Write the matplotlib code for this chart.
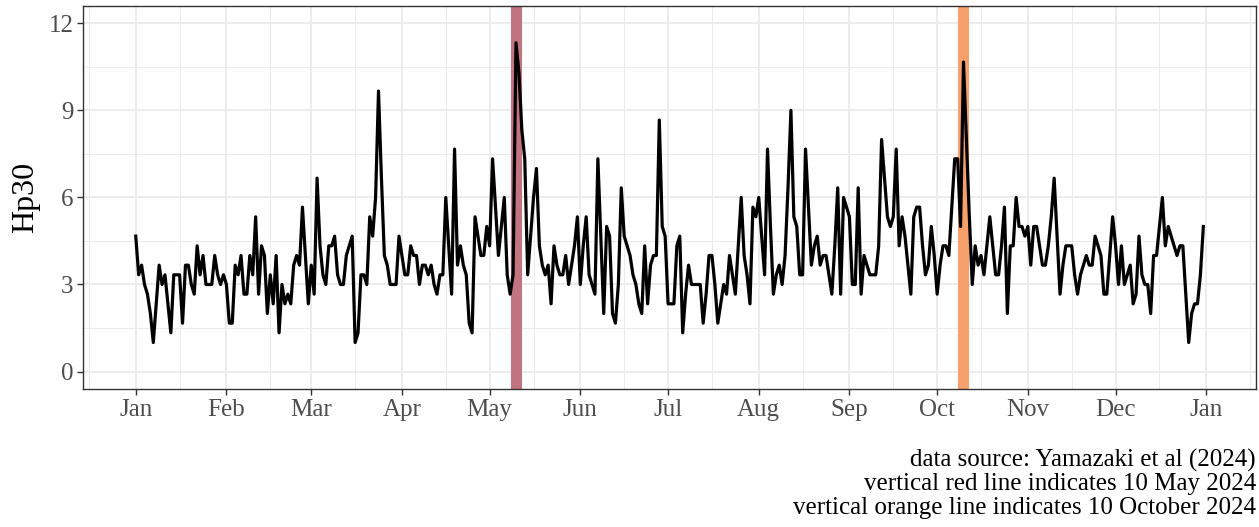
import datetime as dt

import matplotlib.dates as mdates
import matplotlib.pyplot as plt
import numpy as np
from matplotlib.ticker import MultipleLocator

plt.rcParams["font.family"] = ["Liberation Serif", "DejaVu Serif"]

# Daily Hp30 for 2024, stored in units of 1/3 (Hp30 steps in thirds)
hp30_jan = [14, 10, 11, 9, 8, 6, 3, 7, 11, 9, 10, 7, 4, 10, 10, 10, 5, 11, 11, 9, 8, 13, 10, 12, 9, 9, 9, 12, 10, 9, 10]
hp30_feb = [9, 5, 5, 11, 10, 12, 8, 8, 12, 10, 16, 8, 13, 12, 6, 10, 7, 12, 4, 9, 7, 8, 7, 11, 12, 11, 17, 12, 7]
hp30_mar = [11, 8, 20, 13, 10, 9, 13, 13, 14, 10, 9, 9, 12, 13, 14, 3, 4, 10, 10, 9, 16, 14, 18, 29, 20, 12, 11, 9, 9, 9, 14]
hp30_apr = [12, 10, 10, 13, 12, 12, 9, 11, 11, 10, 11, 9, 8, 10, 10, 18, 13, 8, 23, 11, 13, 11, 10, 5, 4, 16, 14, 12, 12, 15]
hp30_may = [13, 22, 17, 12, 15, 18, 10, 8, 10, 34, 31, 25, 22, 10, 14, 18, 21, 13, 11, 10, 11, 7, 13, 11, 10, 10, 12, 9, 11, 13, 16]
hp30_jun = [9, 13, 16, 10, 9, 8, 22, 14, 6, 15, 14, 6, 5, 9, 19, 14, 13, 12, 10, 9, 7, 6, 13, 7, 11, 12, 12, 26, 15, 14]
hp30_jul = [7, 7, 7, 13, 14, 4, 8, 11, 9, 9, 9, 9, 5, 8, 12, 12, 9, 5, 7, 9, 8, 12, 10, 8, 13, 18, 12, 10, 7, 17, 16]
hp30_aug = [18, 14, 10, 23, 15, 8, 10, 11, 9, 12, 19, 27, 16, 15, 10, 10, 23, 17, 11, 13, 14, 11, 12, 12, 10, 8, 13, 19, 8, 18, 17]
hp30_sep = [16, 9, 9, 19, 8, 12, 11, 10, 10, 10, 13, 24, 20, 16, 15, 16, 23, 13, 16, 14, 11, 8, 16, 17, 17, 13, 10, 11, 15, 12]
hp30_oct = [8, 11, 13, 13, 12, 17, 22, 22, 15, 32, 24, 16, 9, 13, 11, 12, 10, 13, 16, 13, 10, 10, 13, 17, 6, 13, 13, 18, 15, 15, 14]
hp30_nov = [15, 11, 15, 15, 13, 11, 11, 13, 16, 20, 14, 8, 11, 13, 13, 13, 10, 8, 10, 11, 12, 11, 11, 14, 13, 12, 8, 8, 12, 16]
hp30_dec = [13, 9, 13, 9, 10, 11, 7, 8, 14, 10, 9, 9, 6, 12, 12, 15, 18, 13, 15, 14, 13, 12, 13, 13, 8, 3, 6, 7, 7, 10, 15]

storm_may = dt.date(2024, 5, 10)
storm_oct = dt.date(2024, 10, 10)

caption_lines = [
    "data source: Yamazaki et al (2024)",
    "vertical red line indicates 10 May 2024",
    "vertical orange line indicates 10 October 2024",
]


def main():
    thirds = (hp30_jan + hp30_feb + hp30_mar + hp30_apr + hp30_may + hp30_jun
              + hp30_jul + hp30_aug + hp30_sep + hp30_oct + hp30_nov + hp30_dec)
    hp30 = np.array(thirds) / 3
    dates = [dt.date(2024, 1, 1) + dt.timedelta(days=i) for i in range(len(hp30))]

    fig = plt.figure(figsize=(12.59, 5.27), dpi=100)
    ax = fig.add_axes([0.066, 0.262, 0.9316, 0.7266])

    ax.axvline(storm_may, color="#C27480", linewidth=8.0, zorder=1)
    ax.axvline(storm_oct, color="#F7A06C", linewidth=8.0, zorder=1)
    ax.plot(dates, hp30, color="black", linewidth=2.3, zorder=3)

    pad = dt.timedelta(days=18.25)
    ax.set_xlim(dates[0] - pad, dates[-1] + pad)
    ax.set_ylim(-0.6, 12.6)

    ax.yaxis.set_major_locator(MultipleLocator(3))
    ax.yaxis.set_minor_locator(MultipleLocator(1.5))
    ax.xaxis.set_major_locator(mdates.MonthLocator())
    ax.xaxis.set_major_formatter(mdates.DateFormatter("%b"))
    ax.xaxis.set_minor_locator(mdates.MonthLocator(bymonthday=16))

    ax.grid(which="major", color="#EBEBEB", linewidth=1.3, zorder=0)
    ax.grid(which="minor", color="#EBEBEB", linewidth=0.7, zorder=0)
    ax.set_axisbelow(True)

    ax.tick_params(which="major", length=4, width=1.0, color="#333333",
                   labelsize=18, labelcolor="#4D4D4D", pad=3)
    ax.tick_params(which="minor", length=0)
    for spine in ax.spines.values():
        spine.set_color("#333333")
        spine.set_linewidth(1.0)

    ax.set_ylabel("Hp30", fontsize=23, labelpad=6)

    fig.text(0.9976, 0.148, "\n".join(caption_lines), ha="right", va="top",
             fontsize=18, linespacing=1.08)

    fig.savefig("out.png", dpi=100)


main()
